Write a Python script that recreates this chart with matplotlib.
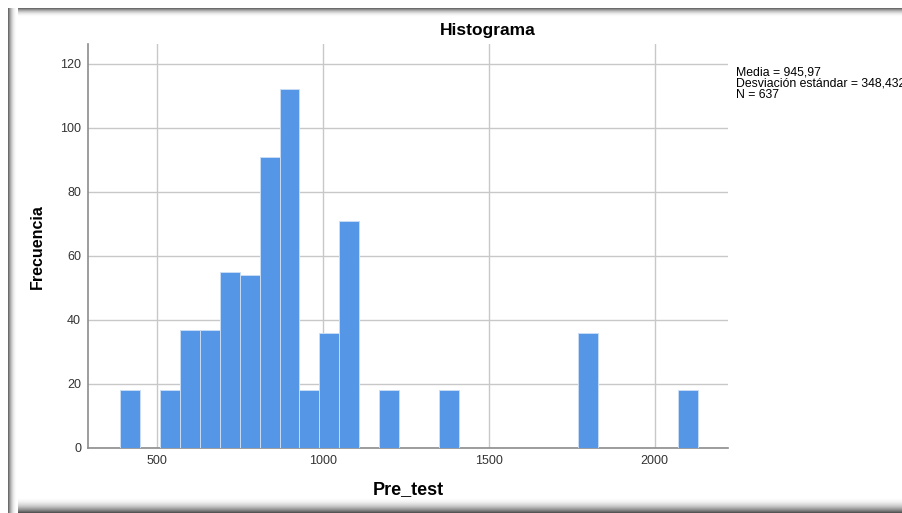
import numpy as np
import matplotlib.pyplot as plt

plt.rcParams['font.family'] = ['Liberation Sans', 'DejaVu Sans']

# bin edges (width 60) and counts
bin_start = 390
bin_width = 60
counts = [18, 0, 18, 37, 37, 55, 54, 91, 112, 18, 36, 71, 0, 18, 0, 0, 18,
          0, 0, 0, 0, 0, 0, 36, 0, 0, 0, 0, 18]
edges = bin_start + bin_width * np.arange(len(counts) + 1)

x_ticks = [500, 1000, 1500, 2000]
y_ticks = [0, 20, 40, 60, 80, 100, 120]
stats_text = "Media = 945,97\nDesviación estándar = 348,432\nN = 637"

W, H = 903, 513
fig = plt.figure(figsize=(W / 100, H / 100), dpi=100)


def box(x0, y0, x1, y1):
    # pixel box (top-left origin) -> figure fraction rect
    return [x0 / W, 1 - y1 / H, (x1 - x0) / W, (y1 - y0) / H]


# shadowed frame (inner shadow fading inward)
def shade(rect, vertical, dark_first, n, dark=0.42):
    a = fig.add_axes(rect)
    t = np.linspace(0, 1, n)
    g = 1 - (1 - dark) * (1 - t) ** 2.2
    if not dark_first:
        g = g[::-1]
    img = g[:, None] if vertical else g[None, :]
    a.imshow(img, cmap='gray', vmin=0, vmax=1, aspect='auto',
             interpolation='nearest')
    a.axis('off')


shade(box(8, 8, W, 18), True, True, 10)          # top
shade(box(8, 496, W, H), True, False, 17, 0.33)  # bottom
shade(box(8, 8, 18, H), False, True, 10)         # left

ax = fig.add_axes(box(88, 44, 728, 448))

ax.hist(edges[:-1], bins=edges, weights=counts, color='#5596e6',
        edgecolor='#c8dcf5', linewidth=0.7, zorder=3)

ax.set_xlim(293, 2221)
ax.set_ylim(0, 126.2)
ax.set_xticks(x_ticks)
ax.set_yticks(y_ticks)
ax.grid(True, color='#c8c8c8', linewidth=1, zorder=0)
ax.set_axisbelow(True)
for s in ['top', 'right']:
    ax.spines[s].set_visible(False)
for s in ['left', 'bottom']:
    ax.spines[s].set_color('#8c8c8c')
    ax.spines[s].set_linewidth(1.2)
ax.tick_params(length=0, labelsize=9, labelcolor='#333333', pad=5)

fig.text(488 / W, 1 - 31 / H, 'Histograma', ha='center', va='center',
         fontsize=12.5, fontweight='bold')
fig.text(37 / W, 1 - 247 / H, 'Frecuencia', ha='center', va='center',
         rotation=90, fontsize=11.5, fontweight='bold')
fig.text(408 / W, 1 - 490 / H, 'Pre_test', ha='center', va='center',
         fontsize=13, fontweight='bold')
fig.text(736 / W, 1 - 67 / H, stats_text, ha='left', va='top',
         fontsize=8.8, linespacing=0.88)

fig.savefig('out.png', dpi=100)
